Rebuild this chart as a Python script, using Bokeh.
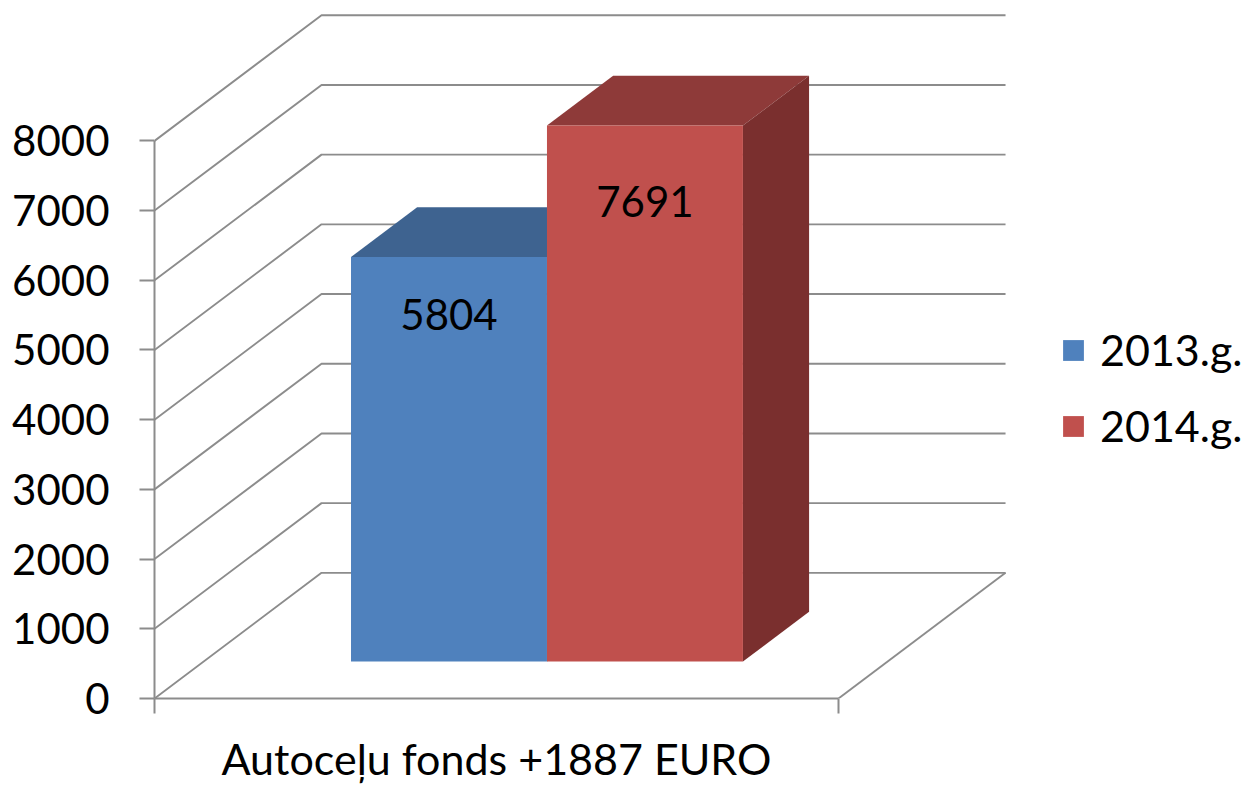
from bokeh.embed import file_html
from bokeh.resources import INLINE
from bokeh.plotting import figure
from bokeh.models import Range1d, FixedTicker, Legend, LegendItem, LinearAxis
from bokeh.core.properties import value

# ---- data -------------------------------------------------------------
category = "Autoceļu fonds +1887 EURO"
series_names = ["2013.g.", "2014.g."]
series_values = [5804, 7691]
y_ticks = [0, 1000, 2000, 3000, 4000, 5000, 6000, 7000, 8000]
front_colors = ["#4F81BD", "#C0504D"]
top_colors = ["#3E6390", "#8E3A39"]
side_colors = ["#35547A", "#7A2F2E"]

# ---- 3-D projection parameters ----------------------------------------
DX = 0.2442          # x shift of the full depth, in category units
DY = 1803            # y shift of the full depth, in value units
BAR_W = 0.2865       # width of one bar
BAR_X0 = 0.2155      # floor position of first bar
D_FRONT, D_BACK = 0.294, 0.69
LABEL_FRAC = 0.858
GRID = "#8C8C8C"
FONT = "Lato"
FS = "42px"

W, H = 1244, 786
FR_L, FR_B = 154, 86
PX_X = 684.0         # px per category unit
PX_Y = 0.0699        # px per value unit

p = figure(width=W, height=H, output_backend="svg", toolbar_location=None,
           x_axis_location=None, y_axis_location=None,
           x_range=Range1d(0, (W - FR_L) / PX_X),
           y_range=Range1d(0, (H - FR_B) / PX_Y),
           min_border_left=FR_L, min_border_right=0, min_border_top=0, min_border_bottom=FR_B)
p.outline_line_color = None
p.grid.visible = False
p.background_fill_color = "white"


def proj(x, y, d):
    return x + DX * d, y + DY * d


# walls and floor
for v in y_ticks:
    x1, y1 = proj(0, v, 1)
    p.line([0, x1, 1 + DX], [v, y1, y1], line_color=GRID, line_width=1.9)
x1, y1 = proj(1, 0, 1)
p.line([1, x1], [0, y1], line_color=GRID, line_width=1.9)

# bars
fronts = []
for i, val in enumerate(series_values):
    xl = BAR_X0 + i * BAR_W
    xr = xl + BAR_W
    f = [proj(xl, 0, D_FRONT), proj(xr, 0, D_FRONT), proj(xr, val, D_FRONT), proj(xl, val, D_FRONT)]
    t = [proj(xl, val, D_FRONT), proj(xr, val, D_FRONT), proj(xr, val, D_BACK), proj(xl, val, D_BACK)]
    s = [proj(xr, 0, D_FRONT), proj(xr, 0, D_BACK), proj(xr, val, D_BACK), proj(xr, val, D_FRONT)]
    for pts, col in ((t, top_colors[i]), (s, side_colors[i])):
        p.patch([a for a, _ in pts], [b for _, b in pts], fill_color=col, line_color=None)
    r = p.patch([a for a, _ in f], [b for _, b in f], fill_color=front_colors[i], line_color=None)
    fronts.append(r)

# data labels
lx, ly, lt = [], [], []
for i, val in enumerate(series_values):
    a, b = proj(BAR_X0 + (i + 0.5) * BAR_W, val * LABEL_FRAC, D_FRONT)
    lx.append(a); ly.append(b); lt.append(str(val))
p.text(lx, ly, text=lt, text_font=value(FONT), text_font_size=value(FS), text_color="#000000",
       text_align="center", text_baseline="middle")

# axes
yax = LinearAxis(bounds=(0, 8000), ticker=FixedTicker(ticks=y_ticks))
yax.axis_line_color = GRID
yax.axis_line_width = 2
yax.major_tick_line_color = GRID
yax.major_tick_line_width = 2
yax.major_tick_out = 15
yax.major_tick_in = 0
yax.minor_tick_line_color = None
yax.major_label_standoff = 30
yax.major_label_text_font = FONT
yax.major_label_text_font_size = FS
yax.major_label_text_color = "#000000"
p.add_layout(yax, "left")

xax = LinearAxis(bounds=(0, 1), ticker=FixedTicker(ticks=[0.5], minor_ticks=[0, 1]),
                 major_label_overrides={0.5: category})
xax.axis_line_color = GRID
xax.axis_line_width = 2
xax.major_tick_line_color = None
xax.major_tick_out = 0
xax.major_tick_in = 0
xax.minor_tick_line_color = GRID
xax.minor_tick_line_width = 2
xax.minor_tick_out = 15
xax.minor_tick_in = 0
xax.major_label_standoff = 19
xax.major_label_text_font = FONT
xax.major_label_text_font_size = "43px"
xax.major_label_text_color = "#000000"
p.add_layout(xax, "below")

# legend
leg = Legend(items=[LegendItem(label=n, renderers=[r]) for n, r in zip(series_names, fronts)],
             location=(906, 247), orientation="vertical",
             glyph_width=26, glyph_height=26, label_standoff=14, spacing=25,
             label_height=38, label_text_font=FONT, label_text_font_size="43px",
             label_text_color="#000000", border_line_color=None, background_fill_alpha=0,
             padding=0, margin=0, click_policy="none")
p.add_layout(leg, "center")

open("out.html", "w").write(file_html(p, INLINE))
